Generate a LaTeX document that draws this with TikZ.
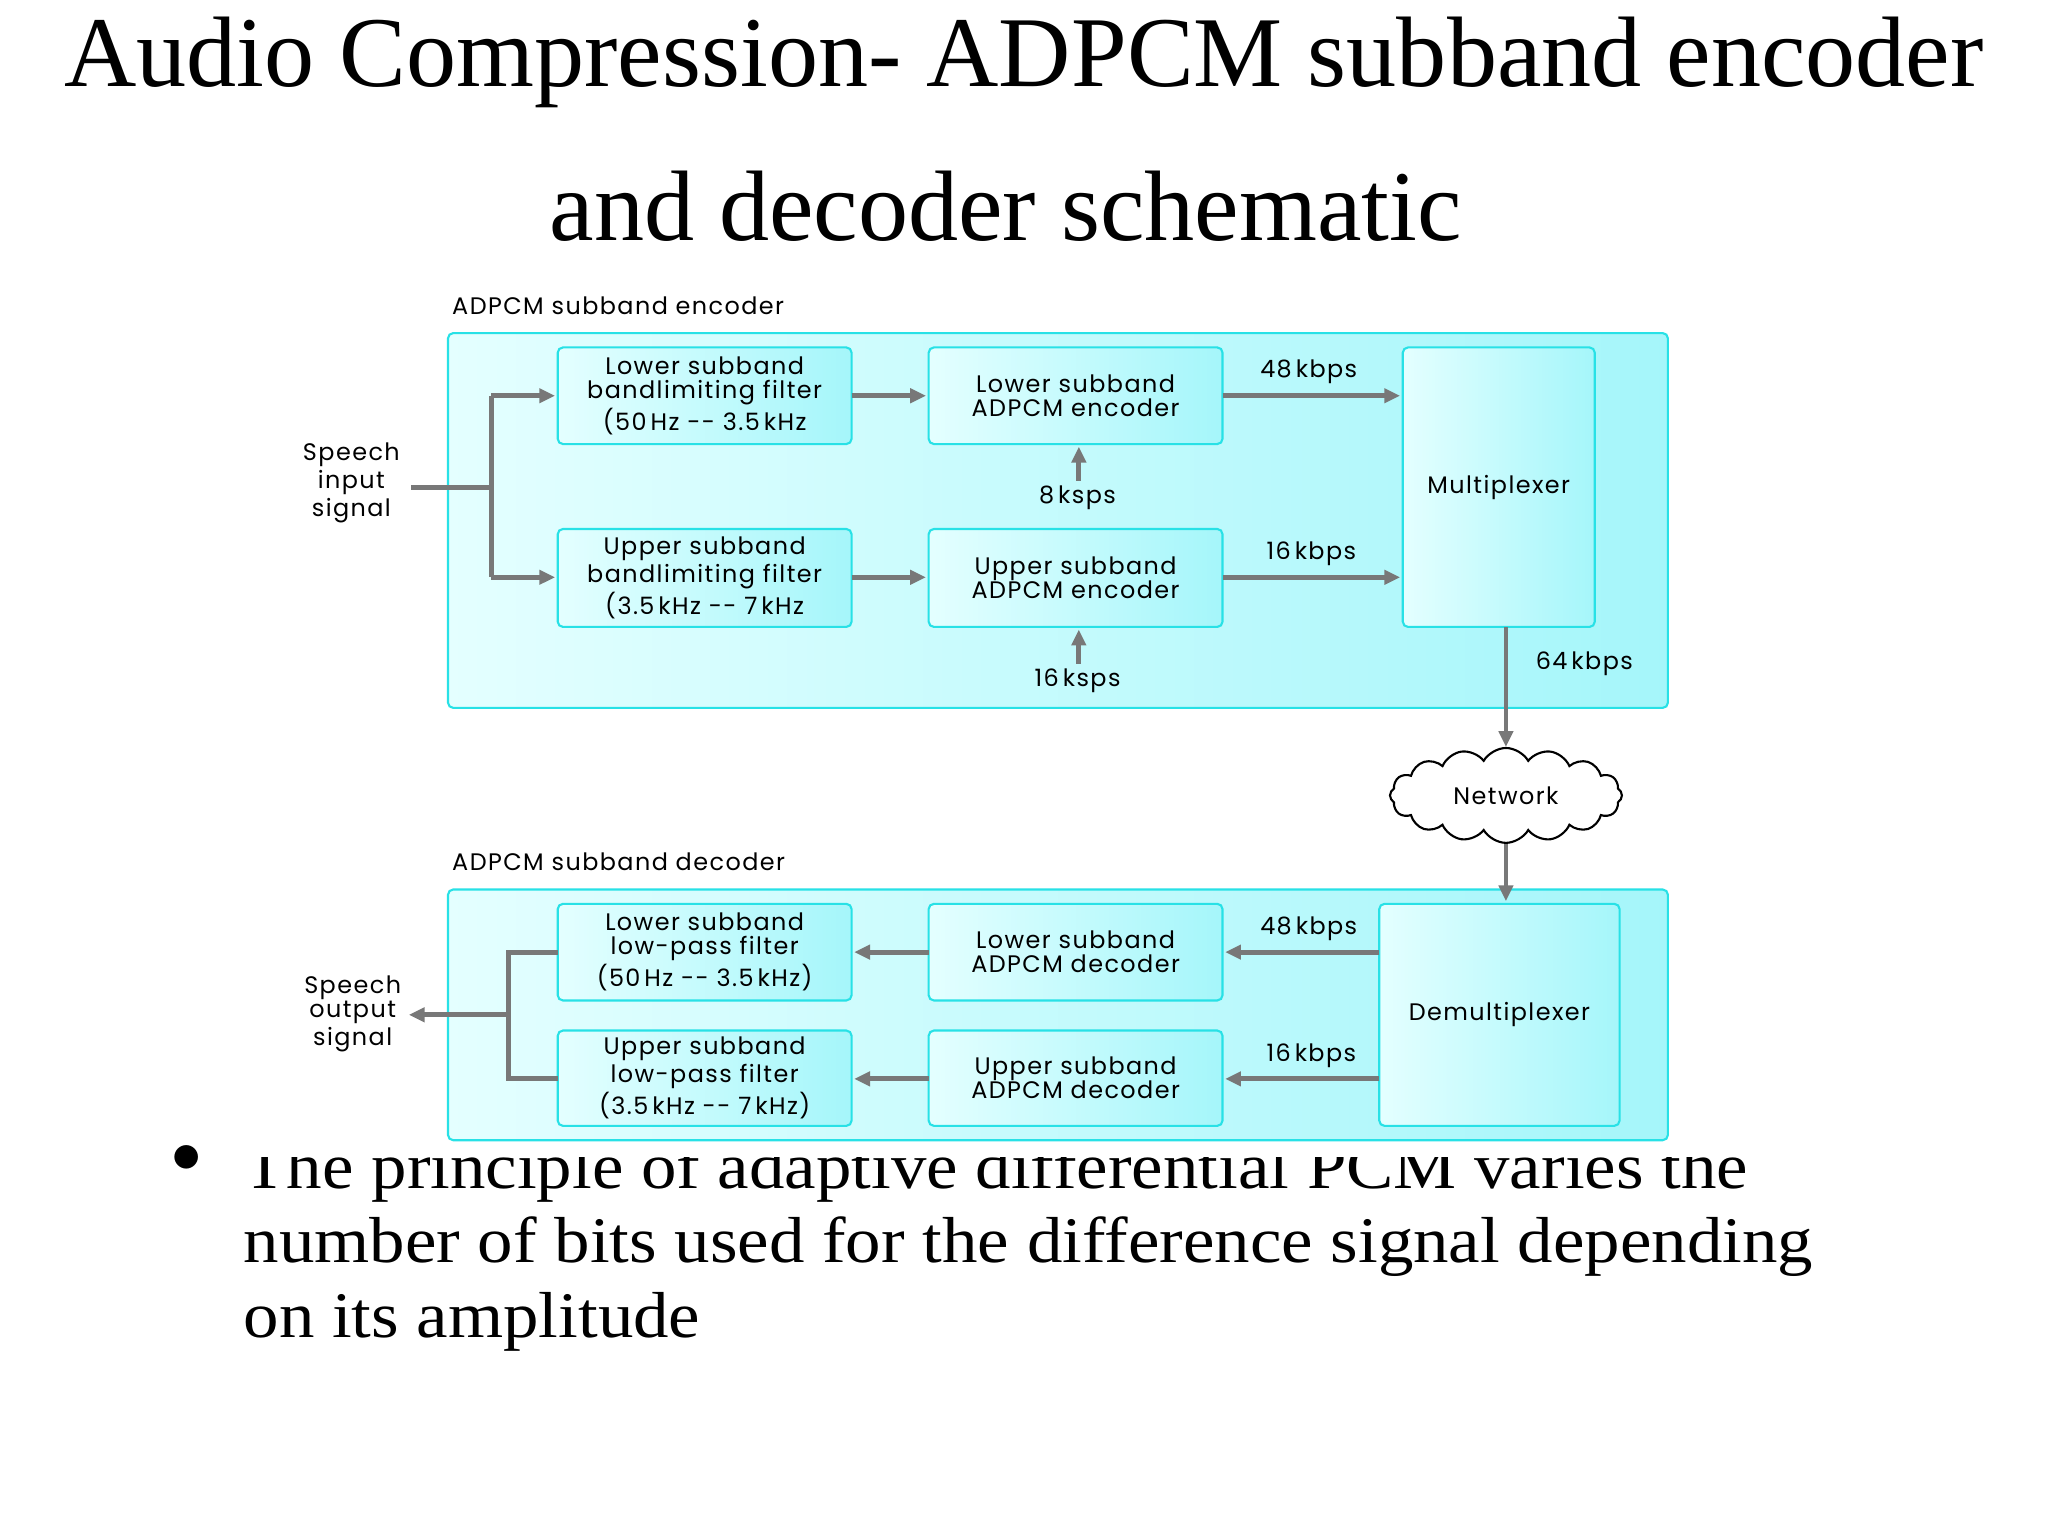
\documentclass[tikz,border=0pt]{standalone}
\usepackage{fontspec}
\setmainfont{Liberation Serif}
\newfontfamily\diag[LetterSpace=6]{Poppins}
\newfontfamily\wideserif[FakeStretch=1.09]{Liberation Serif}
\usetikzlibrary{arrows.meta,shapes.symbols}
\definecolor{cyl}{RGB}{228,255,255}
\definecolor{cyr}{RGB}{165,246,250}
\definecolor{cyb}{RGB}{40,225,230}
\definecolor{ag}{RGB}{120,120,120}
\begin{document}
\begin{tikzpicture}[x=0.013061cm,y=-0.013061cm,
  box/.style={draw=cyb,line width=0.6pt,rounded corners=1.5pt,left color=cyl,right color=cyr},
  lab/.style={font=\diag\fontsize{6.8}{6.8}\selectfont,align=center,inner sep=1pt},
  ar/.style={draw=ag,line width=1.4pt,-{Triangle[length=4.5pt,width=4pt]}},
  ln/.style={draw=ag,line width=1.4pt}]
\useasboundingbox (0,0) rectangle (1568,1176);
\fill[white] (0,0) rectangle (1568,1176);
% title
\node[font=\fontsize{28.5}{34}\selectfont] (t1) at (784,48) {Audio Compression- ADPCM subband encoder};
\node[font=\fontsize{28.5}{34}\selectfont] (t2) at (770,158) {and decoder schematic};
% bullet text
\node[font=\fontsize{18}{21}\selectfont] (bul) at (143,887) {$\bullet$};
\node[font=\wideserif\fontsize{18.5}{21.2}\selectfont,anchor=north west,align=left,inner sep=0pt] (btxt) at (186,874)
 {The principle of adaptive differential PCM varies the\\ number of bits used for the difference signal depending\\ on its amplitude};
\fill[white] (180,560) rectangle (1400,886);
% encoder
\node[lab,anchor=west] (enclab) at (343,234) {ADPCM subband encoder};
\path[box] (343,255) rectangle (1277,542);
\path[box] (427,266) rectangle (652,340) node[midway,lab] (lfT) {Lower subband\\bandlimiting filter\\(50\,Hz -- 3.5\,kHz};
\path[box] (711,266) rectangle (936,340) node[midway,lab] (leT) {Lower subband\\ADPCM encoder};
\path[box] (427,405) rectangle (652,480) node[midway,lab] (ufT) {Upper subband\\bandlimiting filter\\(3.5\,kHz -- 7\,kHz};
\path[box] (711,405) rectangle (936,480) node[midway,lab] (ueT) {Upper subband\\ADPCM encoder};
\path[box] (1074,266) rectangle (1221,480) node[midway,lab] (muxT) {Multiplexer};
\coordinate (lfW) at (425,303); \coordinate (lfE) at (652,303);
\coordinate (leW) at (709,303); \coordinate (leE) at (936,303);
\coordinate (ufW) at (425,442); \coordinate (ufE) at (652,442);
\coordinate (ueW) at (709,442); \coordinate (ueE) at (936,442);
\coordinate (muxA) at (1072,303); \coordinate (muxB) at (1072,442);
\coordinate (leS) at (826,342); \coordinate (ueS) at (826,482);
\coordinate (muxS) at (1153,480);
\node[lab] (spin) at (269,370) {Speech\\input\\signal};
\coordinate (j1) at (376,373);
\draw[ln] (315,373) -- (j1);
\draw[ar] (376,303) -- (lfW);
\draw[ln] (376,303) -- (376,442);
\draw[ar] (376,442) -- (ufW);
\draw[ar] (lfE) -- (leW);
\draw[ar] (ufE) -- (ueW);
\draw[ar] (leE) -- (muxA);
\draw[ar] (ueE) -- (muxB);
\node[lab] (k48) at (1002,285) {48\,kbps};
\node[lab] (k16) at (1004,424) {16\,kbps};
\node[lab] (s8) at (825,381) {8\,ksps};
\node[lab] (s16) at (825,521) {16\,ksps};
\draw[ar] (826,368) -- (leS);
\draw[ar] (826,508) -- (ueS);
\node[lab] (k64) at (1213,508) {64\,kbps};
% network
\node[cloud,cloud puffs=16,cloud puff arc=120,aspect=2.4,draw,line width=0.6pt,fill=white,
  inner sep=0pt,font=\diag\fontsize{6.8}{6.8}\selectfont,minimum width=66pt,minimum height=27pt] (net) at (1153,609) {Network};
\draw[ar] (muxS) -- (net.north);
% decoder
\node[lab,anchor=west] (declab) at (343,660) {ADPCM subband decoder};
\path[box] (343,681) rectangle (1277,873);
\path[box] (427,692) rectangle (652,766) node[midway,lab] (llT) {Lower subband\\low-pass filter\\(50\,Hz -- 3.5\,kHz)};
\path[box] (711,692) rectangle (936,766) node[midway,lab] (ldT) {Lower subband\\ADPCM decoder};
\path[box] (427,789) rectangle (652,862) node[midway,lab] (ulT) {Upper subband\\low-pass filter\\(3.5\,kHz -- 7\,kHz)};
\path[box] (711,789) rectangle (936,862) node[midway,lab] (udT) {Upper subband\\ADPCM decoder};
\path[box] (1056,692) rectangle (1240,862) node[midway,lab] (dmT) {Demultiplexer};
\coordinate (dmN) at (1153,690);
\draw[ar] (net.south) -- (dmN);
\draw[ar] (1056,729) -- (938,729);
\draw[ar] (1056,826) -- (938,826);
\draw[ar] (711,729) -- (654,729);
\draw[ar] (711,826) -- (654,826);
\node[lab] (d48) at (1002,711) {48\,kbps};
\node[lab] (d16) at (1004,808) {16\,kbps};
\draw[ln] (427,729) -- (389,729) -- (389,826) -- (427,826);
\node[lab] (spout) at (270,776) {Speech\\output\\signal};
\draw[ar] (389,777) -- (313,777);
\end{tikzpicture}
\end{document}
